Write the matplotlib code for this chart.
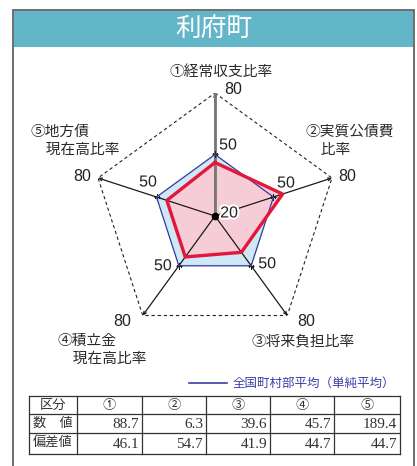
import matplotlib
matplotlib.use("Agg")
import matplotlib.pyplot as plt
import matplotlib.patheffects as pe
import numpy as np
from matplotlib.patches import Rectangle

plt.rcParams['font.family'] = ['Noto Sans CJK JP', 'DejaVu Sans']

# --- data ---
town_name = "利府町"
axis_labels = ["①経常収支比率", "②実質公債費\n　比率", "③将来負担比率",
               "④積立金\n　現在高比率", "⑤地方債\n　現在高比率"]
col_heads = ["区分", "①", "②", "③", "④", "⑤"]
row_heads = ["数　値", "偏差値"]
raw_values = [88.7, 6.3, 39.6, 45.7, 189.4]
deviation = [46.1, 54.7, 41.9, 44.7, 44.7]
national_avg = [50, 50, 50, 50, 50]
r_min, r_mid, r_max = 20, 50, 80
legend_text = "全国町村部平均（単純平均）"

W, H = 417, 466
fig = plt.figure(figsize=(W / 100, H / 100), dpi=100)

# background axes in pixel coordinates (frame, header, labels, table)
bg = fig.add_axes([0, 0, 1, 1])
bg.set_xlim(0, W)
bg.set_ylim(H, 0)
bg.axis('off')

bg.add_patch(Rectangle((13, 10), 401, 470, facecolor='white', edgecolor='#555555', lw=1.2, zorder=0))
bg.add_patch(Rectangle((13.6, 10.6), 399.8, 36.5, facecolor='#62b6c8', edgecolor='none', zorder=1))
bg.text(214, 29, town_name, color='white', fontsize=18.5, ha='center', va='center', zorder=2)

# category labels around the radar (one text per line, 18 px apart)
label_pos = [(170, 72), (306, 132), (252, 341), (58, 341), (31, 132)]
for (x, y), lab in zip(label_pos, axis_labels):
    for li, line in enumerate(lab.split('\n')):
        bg.text(x, y + 18 * li, line, fontsize=10.6, color='#2a2a2a', ha='left', va='center', zorder=3)

# legend
bg.plot([189, 227], [383, 383], color='#3c3ca8', lw=1.2)
bg.text(233, 383, legend_text, color='#3c3ca8', fontsize=9, ha='left', va='center')

# table
xs = [29, 77, 142, 206, 270, 334, 400]
ys = [396, 414, 433, 454]
for x in xs:
    bg.plot([x, x], [ys[0], ys[-1]], color='#333333', lw=0.9)
for y in ys:
    bg.plot([xs[0], xs[-1]], [y, y], color='#333333', lw=0.9)
tfont = ['Liberation Serif', 'Noto Sans CJK JP']
for i, h in enumerate(col_heads):
    bg.text((xs[i] + xs[i + 1]) / 2, (ys[0] + ys[1]) / 2, h, fontsize=9.5, color='#333333',
            ha='center', va='center', family=['Noto Sans CJK JP'])
for j, (rh, vals) in enumerate(zip(row_heads, [raw_values, deviation])):
    yc = (ys[j + 1] + ys[j + 2]) / 2
    bg.text((xs[0] + xs[1]) / 2, yc, rh, fontsize=9.5, color='#333333', ha='center', va='center')
    for i, v in enumerate(vals):
        bg.text(xs[i + 2] - 3, yc + 1, f"{v:.1f}", fontsize=11, color='#333333',
                ha='right', va='center', family=tfont)

# radar (polar axes), center (215, 216), radius 123 px
cx, cy, R = 215, 216, 123
ax = fig.add_axes([(cx - R) / W, (H - cy - R) / H, 2 * R / W, 2 * R / H], polar=True)
ax.set_theta_zero_location('N')
ax.set_theta_direction(-1)
ax.set_ylim(r_min, r_max)
ax.patch.set_alpha(0)
ax.spines['polar'].set_visible(False)
ax.grid(False)
ax.set_xticks([])
ax.set_yticks([])

n = len(axis_labels)
theta = np.linspace(0, 2 * np.pi, n, endpoint=False)
tc = np.append(theta, theta[0])

def closed(v):
    return np.append(v, v[0])

# outer dashed pentagon
ax.plot(tc, [r_max] * (n + 1), color='#222222', lw=0.8, ls=(0, (3, 2.5)), zorder=2)

# national average (blue) and town (red)
ax.fill(tc, closed(national_avg), color='#cfe8f6', zorder=3)
ax.fill(tc, closed(deviation), color='#f6ccd6', zorder=4)

# axis spokes
for k, t in enumerate(theta):
    col = '#777777' if k == 0 else '#1a1a1a'
    lw = 2.0 if k == 0 else 0.9
    ax.annotate('', xy=(t, r_max), xytext=(t, r_min),
                arrowprops=dict(arrowstyle='->', color=col, lw=lw if k else 1.0,
                                mutation_scale=5, shrinkA=0, shrinkB=0), zorder=5)
    if k == 0:
        ax.plot([t, t], [r_min, r_max], color=col, lw=lw, zorder=5)
ax.plot(theta, [r_mid] * n, ls='none', marker='+', ms=4, mew=0.8, color='#1a1a1a', zorder=6)

ax.plot(tc, closed(national_avg), color='#3b3b9e', lw=0.9, zorder=7)
ax.plot(tc, closed(deviation), color='#e3173a', lw=2.4, zorder=8)
ax.plot(0, r_min, 'o', color='black', ms=4.5, zorder=9)

# scale labels (offsets in pixels)
halo = [pe.withStroke(linewidth=3, foreground='white')]
off50 = [(13, 9.5), (12.5, 14), (16, 2), (-16, 0), (-8.5, 15)]
off80 = [(18, 3), (15, 1), (19, -5.5), (-21, -5.5), (-16, 1)]
for t, o in zip(theta, off50):
    ax.annotate(str(r_mid), xy=(t, r_mid), xytext=o, textcoords='offset pixels',
                ha='center', va='center', fontsize=11.5, family=['Liberation Sans'],
                color='#222222', path_effects=halo, zorder=10)
for t, o in zip(theta, off80):
    ax.annotate(str(r_max), xy=(t, r_max), xytext=o, textcoords='offset pixels',
                ha='center', va='center', fontsize=11.5, family=['Liberation Sans'],
                color='#222222', zorder=10)
ax.annotate(str(r_min), xy=(0, r_min), xytext=(14, 3), textcoords='offset pixels',
            ha='center', va='center', fontsize=11.5, family=['Liberation Sans'],
            color='#222222', path_effects=halo, zorder=10)

fig.savefig('out.png', dpi=100)
